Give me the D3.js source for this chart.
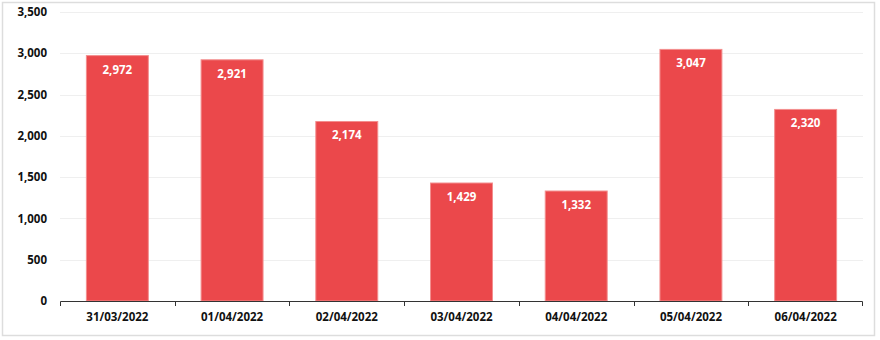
<!DOCTYPE html>
<html>
<head>
<meta charset="utf-8">
<script src="https://cdn.jsdelivr.net/npm/d3@7"></script>
<style>
  body { margin: 0; background: #fff; }
  svg { display: block; font-family: "Open Sans", sans-serif; }
</style>
</head>
<body>
<svg id="chart" width="880" height="340"></svg>
<script>
// data
const dates = ["31/03/2022", "01/04/2022", "02/04/2022", "03/04/2022", "04/04/2022", "05/04/2022", "06/04/2022"]
const counts = [2972, 2921, 2174, 1429, 1332, 3047, 2320]
const yTicks = [0, 500, 1000, 1500, 2000, 2500, 3000, 3500]

const svg = d3.select("#chart")
const m = {left: 60, right: 17, top: 12, bottom: 39}
const W = 880, H = 340

// outer frame
svg.append("rect").attr("x", 2.5).attr("y", 2.5).attr("width", 872).attr("height", 333)
  .attr("fill", "none").attr("stroke", "#dddddd").attr("stroke-width", 1.5)

const x = d3.scaleBand().domain(dates).range([m.left, W - m.right]).padding(0)
const y = d3.scaleLinear().domain([0, 3500]).range([H - m.bottom, m.top])
const fmt = d3.format(",")

// gridlines
svg.append("g").selectAll("line").data(yTicks.slice(1)).join("line")
  .attr("x1", m.left).attr("x2", W - m.right)
  .attr("y1", d => Math.round(y(d)) + 0.5).attr("y2", d => Math.round(y(d)) + 0.5)
  .attr("stroke", "#efefef")

// y labels
const yAxis = svg.append("g").attr("transform", `translate(${m.left},0)`)
  .call(d3.axisLeft(y).tickValues(yTicks).tickFormat(fmt).tickSize(0).tickPadding(13))
yAxis.select(".domain").remove()
yAxis.selectAll("text").attr("font-family", "Open Sans").attr("font-weight", "bold")
  .attr("font-size", 11.5).attr("fill", "#111")

// bars
const bw = x.bandwidth() * 0.54
svg.append("g").selectAll("rect").data(counts).join("rect")
  .attr("x", (d, i) => x(dates[i]) + (x.bandwidth() - bw) / 2)
  .attr("y", d => y(d))
  .attr("width", bw)
  .attr("height", d => y(0) - y(d))
  .attr("fill", "#eb484b")
  .attr("stroke", "#f38e8e").attr("stroke-width", 1)

// value labels inside bars
svg.append("g").selectAll("text").data(counts).join("text")
  .attr("x", (d, i) => x(dates[i]) + x.bandwidth() / 2)
  .attr("y", d => y(d) + 18)
  .attr("text-anchor", "middle")
  .attr("font-weight", "bold").attr("font-size", 11.5).attr("fill", "#fff")
  .text(d => fmt(d))

// x axis
const xAxis = svg.append("g").attr("transform", `translate(0,${y(0)})`)
  .call(d3.axisBottom(x).tickSize(0).tickPadding(12))
xAxis.select(".domain").attr("stroke", "#333").attr("d", `M${m.left + 0.5},5V0.5H${W - m.right - 0.5}V5`)
xAxis.selectAll("text").attr("font-family", "Open Sans").attr("font-weight", "bold")
  .attr("font-size", 11.5).attr("fill", "#111")
// band boundary ticks
xAxis.append("g").selectAll("line").data(dates.slice(1)).join("line")
  .attr("x1", d => Math.round(x(d)) + 0.5).attr("x2", d => Math.round(x(d)) + 0.5)
  .attr("y1", 0).attr("y2", 5).attr("stroke", "#333")
</script>
</body>
</html>
